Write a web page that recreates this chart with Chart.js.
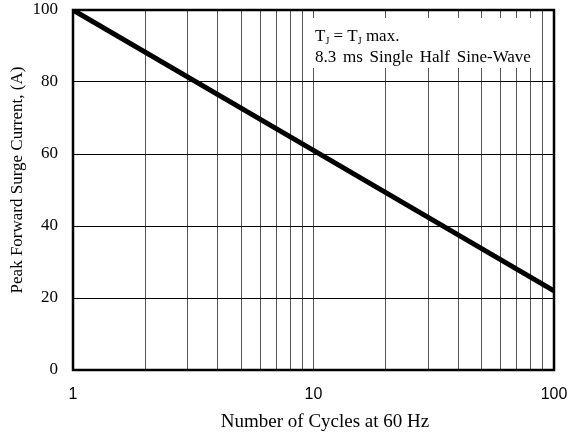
<!DOCTYPE html>
<html>
<head>
<meta charset="utf-8">
<script src="https://cdn.jsdelivr.net/npm/chart.js@4/dist/chart.umd.min.js"></script>
<style>
  html, body { margin: 0; padding: 0; background: #fff; }
  #box { width: 577px; height: 437px; position: relative; }
</style>
</head>
<body>
<div id="box"><canvas id="grafico"></canvas></div>
<script>
// ---------------- DADOS ----------------
const ciclos = [1, 10, 100];
const corrente = [100, 61, 22];
const ticksX = [1, 2, 3, 4, 5, 6, 7, 8, 9, 10, 20, 30, 40, 50, 60, 70, 80, 90, 100];
const rotulosX = [1, 10, 100];
const ticksY = [0, 20, 40, 60, 80, 100];

const tituloX = "Number of Cycles at 60 Hz";
const tituloY = "Peak Forward Surge Current, (A)";

const serif = "'Liberation Serif', 'Times New Roman', serif";
const sans = "'Liberation Sans', Arial, sans-serif";

// caixa de legenda com T_J, moldura e titulos dos eixos
const pluginCaixa = {
  id: "caixa",
  beforeDatasetsDraw(chart) {
    const { ctx, scales: { x, y } } = chart;
    ctx.save();
    ctx.fillStyle = "#fff";
    const x0 = x.getPixelForValue(9.25), x1 = x.getPixelForValue(86);
    const y0 = 18, y1 = 68;
    ctx.fillRect(x0, y0, x1 - x0, y1 - y0);

    ctx.fillStyle = "#000";
    ctx.textBaseline = "alphabetic";
    ctx.font = "17px " + serif;
    let px = 315;
    const linha1 = 41;
    ctx.fillText("T", px, linha1);
    px += ctx.measureText("T").width;
    ctx.font = "10px " + serif;
    ctx.fillText("J", px, linha1 + 3);
    px += ctx.measureText("J").width;
    ctx.font = "17px " + serif;
    ctx.fillText(" = T", px, linha1);
    px += ctx.measureText(" = T").width;
    ctx.font = "10px " + serif;
    ctx.fillText("J", px, linha1 + 3);
    px += ctx.measureText("J").width;
    ctx.font = "17px " + serif;
    ctx.fillText(" max.", px, linha1);

    ctx.wordSpacing = "2.5px";
    ctx.fillText("8.3 ms Single Half Sine-Wave", 315, 62);
    ctx.restore();
  },
  afterDatasetsDraw(chart) {
    const { ctx, chartArea: a } = chart;
    ctx.save();
    ctx.strokeStyle = "#000";
    ctx.lineWidth = 2.5;
    ctx.strokeRect(a.left, a.top, a.right - a.left, a.bottom - a.top);

    ctx.fillStyle = "#000";
    ctx.textAlign = "center";
    ctx.textBaseline = "middle";
    // titulo do eixo X
    ctx.font = "19px " + serif;
    ctx.fillText(tituloX, 325, 422);
    // titulo do eixo Y
    ctx.font = "17px " + serif;
    ctx.translate(18, 180);
    ctx.rotate(-Math.PI / 2);
    ctx.fillText(tituloY, 0, 0);
    ctx.restore();
  }
};

const ctx = document.getElementById("grafico").getContext("2d");
const grafico = new Chart(ctx, {
  type: "line",
  data: {
    labels: ciclos,
    datasets: [{
      data: ciclos.map((c, i) => ({ x: c, y: corrente[i] })),
      borderColor: "#000",
      borderWidth: 5,
      pointRadius: 0,
      tension: 0
    }]
  },
  options: {
    responsive: true,
    maintainAspectRatio: false,
    animation: false,
    layout: { padding: { top: 10, right: 23, left: 0, bottom: 0 } },
    plugins: { legend: { display: false }, tooltip: { enabled: false } },
    scales: {
      x: {
        type: "logarithmic",
        min: 1,
        max: 100,
        afterBuildTicks: s => { s.ticks = ticksX.map(v => ({ value: v })); },
        afterFit: s => { s.height = 67; s.paddingLeft = 0; s.paddingRight = 0; },
        ticks: {
          autoSkip: false,
          maxRotation: 0,
          padding: 15,
          color: "#000",
          font: { family: sans, size: 16 },
          callback: v => rotulosX.includes(v) ? String(v) : ""
        },
        grid: { color: "#555", lineWidth: 1, drawTicks: false },
        border: { display: false }
      },
      y: {
        min: 0,
        max: 100,
        afterBuildTicks: s => { s.ticks = ticksY.map(v => ({ value: v })); },
        afterFit: s => { s.width = 73; s.paddingTop = 0; s.paddingBottom = 0; },
        ticks: {
          padding: 15,
          color: "#000",
          font: { family: serif, size: 17 }
        },
        grid: { color: "#000", lineWidth: 1, drawTicks: false },
        border: { display: false }
      }
    }
  },
  plugins: [pluginCaixa]
});
</script>
</body>
</html>
